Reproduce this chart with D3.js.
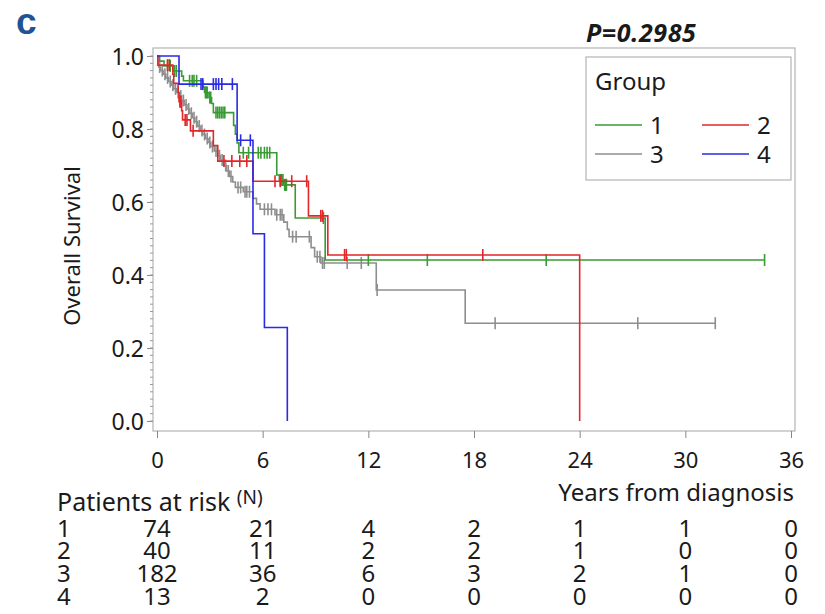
<!DOCTYPE html>
<html>
<head>
<meta charset="utf-8">
<script src="https://cdn.jsdelivr.net/npm/d3@7"></script>
<style>
  body { margin: 0; background: #fff; }
  svg text { font-family: "Noto Sans", "Open Sans", sans-serif; fill: #1a1a1a; }
  .risk text { font-family: "Liberation Sans Narrow", "Noto Sans", sans-serif; }
</style>
</head>
<body>
<script>
// axis ticks
var timeTicks = [0, 6, 12, 18, 24, 30, 36];
var survTicks = [0, 0.2, 0.4, 0.6, 0.8, 1.0];
var groupNames = ['1', '2', '3', '4'];

// KM steps: [years, survival after the drop]
var steps1 = [[0, 1], [0.15, 0.986], [0.4, 0.973], [0.9, 0.959], [1.4, 0.945], [1.5, 0.932],
  [2.6, 0.915], [2.7, 0.9], [2.95, 0.886], [3.1, 0.87], [3.2, 0.845], [4.35, 0.81],
  [4.45, 0.786], [4.55, 0.762], [4.65, 0.735], [6.8, 0.674], [6.95, 0.66], [7.2, 0.647],
  [7.85, 0.556], [9.55, 0.441]];
var censor1 = [0.6, 0.75, 1.0, 1.1, 1.85, 2.0, 2.1, 2.25, 2.75, 2.8, 2.85, 3.0, 3.05, 3.35, 3.45,
  3.55, 3.65, 3.75, 3.85, 4.9, 5.2, 5.75, 5.9, 6.1, 6.25, 6.4, 7.0, 7.05, 7.1, 7.15, 7.25, 7.3,
  7.35, 9.45, 12.0, 15.35, 22.1, 34.5];

var steps2 = [[0, 1], [0.05, 0.975], [0.9, 0.95], [0.95, 0.925], [1.2, 0.9], [1.25, 0.875],
  [1.4, 0.85], [1.45, 0.825], [1.9, 0.795], [3.2, 0.755], [3.45, 0.712], [5.45, 0.657],
  [8.6, 0.562], [9.7, 0.455], [24.0, 0]];
var censor2 = [0.6, 0.7, 1.3, 1.35, 1.6, 1.7, 2.05, 3.8, 4.25, 4.7, 5.1, 6.7, 7.0, 7.65, 8.5,
  9.3, 9.4, 10.65, 10.75, 18.5];

var steps3 = [[0, 1], [0.05, 0.985], [0.1, 0.97], [0.2, 0.96], [0.35, 0.95], [0.5, 0.94],
  [0.65, 0.93], [0.8, 0.92], [0.95, 0.91], [1.1, 0.9], [1.25, 0.89], [1.4, 0.878],
  [1.55, 0.866], [1.7, 0.855], [1.85, 0.843], [2.0, 0.831], [2.15, 0.82], [2.3, 0.808],
  [2.45, 0.796], [2.6, 0.785], [2.75, 0.774], [2.9, 0.763], [3.05, 0.752], [3.25, 0.74],
  [3.45, 0.727], [3.6, 0.715], [3.8, 0.7], [3.95, 0.685], [4.1, 0.67], [4.3, 0.655],
  [4.45, 0.64], [4.9, 0.628], [5.45, 0.61], [5.65, 0.595], [5.85, 0.58], [6.7, 0.565],
  [7.2, 0.545], [7.4, 0.525], [7.5, 0.505], [8.75, 0.475], [8.95, 0.45], [9.3, 0.433],
  [12.45, 0.359], [17.5, 0.268]];
var censor3 = [0.15, 0.3, 0.45, 0.6, 0.75, 0.9, 1.05, 1.2, 1.35, 1.5, 1.65, 1.8, 1.95, 2.1,
  2.25, 2.4, 2.55, 2.7, 2.85, 3.0, 3.15, 3.35, 3.55, 3.7, 3.9, 4.05, 4.2, 4.6, 4.75, 5.0, 5.1,
  5.25, 6.1, 6.3, 6.5, 6.8, 7.0, 7.1, 7.7, 7.9, 8.65, 9.1, 9.25, 9.4, 9.5, 10.8, 11.6, 12.5,
  19.2, 27.3, 31.7];

var steps4 = [[0, 1], [1.25, 0.923], [4.55, 0.769], [5.45, 0.513], [6.1, 0.256], [7.4, 0]];
var censor4 = [2.5, 2.6, 3.2, 3.35, 3.5, 3.68, 4.28, 4.75, 5.3];

// patients at risk at each time tick
var risk1 = [74, 21, 4, 2, 1, 1, 0];
var risk2 = [40, 11, 2, 2, 1, 0, 0];
var risk3 = [182, 36, 6, 3, 2, 1, 0];
var risk4 = [13, 2, 0, 0, 0, 0, 0];

var colors = ['#3a9a34', '#e3262a', '#8e8e8e', '#2a2ae6'];

var series = [
  { name: groupNames[0], steps: steps1, censor: censor1, risk: risk1, color: colors[0] },
  { name: groupNames[1], steps: steps2, censor: censor2, risk: risk2, color: colors[1] },
  { name: groupNames[2], steps: steps3, censor: censor3, risk: risk3, color: colors[2] },
  { name: groupNames[3], steps: steps4, censor: censor4, risk: risk4, color: colors[3] }
];

var svg = d3.select('body').append('svg')
  .attr('width', 825)
  .attr('height', 614);

var x = d3.scaleLinear().domain([0, 36]).range([157, 791]);
var y = d3.scaleLinear().domain([0, 1]).range([421, 56]);

var frame = { left: 153, top: 48, right: 795, bottom: 431 };

// panel letter and p value
svg.append('text')
  .attr('x', 16).attr('y', 34)
  .style('font-family', '"Liberation Sans", sans-serif')
  .style('font-size', '37px').style('font-weight', 'bold')
  .style('fill', '#1f5394')
  .text('c');

svg.append('text')
  .attr('x', 586).attr('y', 42)
  .style('font-size', '25px').style('font-weight', 'bold').style('font-style', 'italic')
  .style('letter-spacing', '0.6px')
  .text('P=0.2985');

// frame
svg.append('rect')
  .attr('x', frame.left).attr('y', frame.top)
  .attr('width', frame.right - frame.left)
  .attr('height', frame.bottom - frame.top)
  .attr('fill', 'none')
  .attr('stroke', '#b4b4b4')
  .attr('stroke-width', 1.2);

// y axis
var yAxis = svg.append('g')
  .attr('transform', 'translate(' + frame.left + ',0)')
  .call(d3.axisLeft(y).tickValues(survTicks).tickFormat(d3.format('.1f')).tickSize(6).tickPadding(3));
yAxis.select('.domain').remove();
yAxis.selectAll('.tick line').attr('stroke', '#888');
yAxis.selectAll('.tick text').style('font-size', '23px').attr('dy', '0.36em');

svg.append('g')
  .selectAll('line')
  .data(y.ticks(50))
  .enter().append('line')
  .attr('x1', frame.left - 3).attr('x2', frame.left)
  .attr('y1', function(d) { return y(d); })
  .attr('y2', function(d) { return y(d); })
  .attr('stroke', '#999');

svg.append('text')
  .attr('transform', 'translate(80,246) rotate(-90)')
  .style('text-anchor', 'middle')
  .style('font-size', '22px')
  .text('Overall Survival');

// x axis
var xAxis = svg.append('g')
  .attr('transform', 'translate(0,' + frame.bottom + ')')
  .call(d3.axisBottom(x).tickValues(timeTicks).tickSize(7).tickPadding(14));
xAxis.select('.domain').remove();
xAxis.selectAll('.tick line').attr('stroke', '#888');
xAxis.selectAll('.tick text').style('font-size', '22px');

svg.append('text')
  .attr('x', 794).attr('y', 501)
  .style('text-anchor', 'end')
  .style('font-size', '24px')
  .text('Years from diagnosis');

// curves
function survAt(steps, t) {
  var i = d3.bisector(function(d) { return d[0]; }).right(steps, t) - 1;
  return steps[Math.max(i, 0)][1];
}

var line = d3.line()
  .x(function(d) { return x(d[0]); })
  .y(function(d) { return y(d[1]); })
  .curve(d3.curveStepAfter);

var drawOrder = [series[2], series[0], series[1], series[3]];

drawOrder.forEach(function(s) {
  var last = s.steps[s.steps.length - 1];
  var endT = Math.max(last[0], d3.max(s.censor));
  var pts = s.steps.slice();
  if (endT > last[0]) pts.push([endT, last[1]]);

  var g = svg.append('g');
  g.append('path')
    .datum(pts)
    .attr('d', line)
    .attr('fill', 'none')
    .attr('stroke', s.color)
    .attr('stroke-width', 1.6);

  g.selectAll('line')
    .data(s.censor)
    .enter().append('line')
    .attr('x1', function(d) { return x(d); })
    .attr('x2', function(d) { return x(d); })
    .attr('y1', function(d) { return y(survAt(s.steps, d)) - 6; })
    .attr('y2', function(d) { return y(survAt(s.steps, d)) + 6; })
    .attr('stroke', s.color)
    .attr('stroke-width', 1.6);
});

// legend
var legend = svg.append('g');
legend.append('rect')
  .attr('x', 586).attr('y', 57)
  .attr('width', 205).attr('height', 123)
  .attr('fill', '#fff')
  .attr('stroke', '#b4b4b4')
  .attr('stroke-width', 1.2);
legend.append('text')
  .attr('x', 595).attr('y', 90)
  .style('font-size', '24px')
  .text('Group');

var legendPos = [[595, 125], [702, 125], [595, 154], [702, 154]];
series.forEach(function(s, i) {
  var p = legendPos[i];
  legend.append('line')
    .attr('x1', p[0]).attr('x2', p[0] + 47)
    .attr('y1', p[1]).attr('y2', p[1])
    .attr('stroke', s.color)
    .attr('stroke-width', 1.6);
  legend.append('text')
    .attr('x', p[0] + 55).attr('y', p[1])
    .attr('dy', '0.36em')
    .style('font-size', '24px')
    .text(s.name);
});

// patients at risk table
var risk = svg.append('g').attr('class', 'risk');
var head = risk.append('text')
  .attr('x', 57).attr('y', 511)
  .style('font-size', '25px');
head.append('tspan').text('Patients at risk ');
head.append('tspan').attr('dy', -7).style('font-size', '19px').text('(N)');

var rowY = [528, 550, 573, 596];
series.forEach(function(s, i) {
  var row = risk.append('g');
  row.append('text')
    .attr('x', 57).attr('y', rowY[i])
    .attr('dy', '0.36em')
    .style('font-size', '24px')
    .text(s.name);
  row.selectAll('text.n')
    .data(s.risk)
    .enter().append('text')
    .attr('class', 'n')
    .attr('x', function(d, j) { return x(timeTicks[j]); })
    .attr('y', rowY[i])
    .attr('dy', '0.36em')
    .style('text-anchor', 'middle')
    .style('font-size', '24px')
    .text(function(d) { return d; });
});
</script>
</body>
</html>
